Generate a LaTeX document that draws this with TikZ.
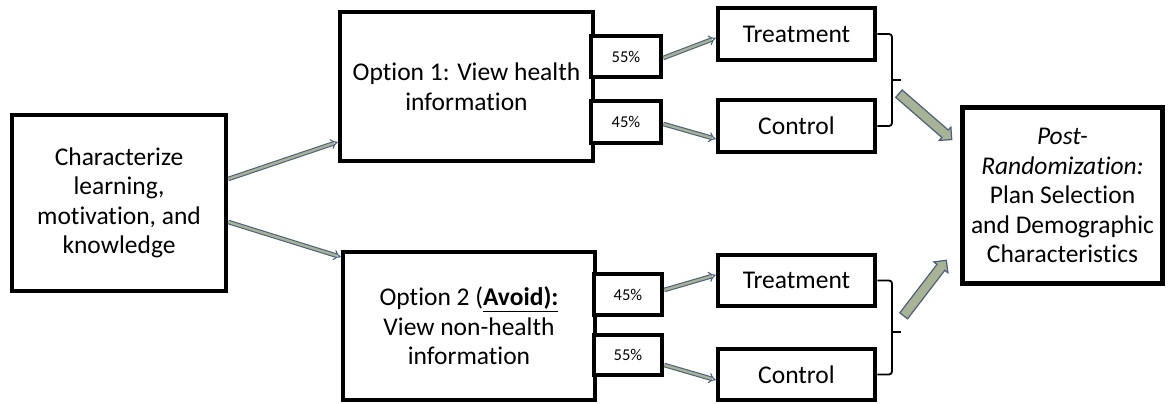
\documentclass[tikz,border=0pt]{standalone}
\usepackage{fontspec}
\setmainfont{Carlito}[RawFeature={-liga;-clig;-calt;-dlig}]
\usepackage{tikz}
\usetikzlibrary{arrows.meta,calc,shapes.arrows}
\definecolor{aredge}{HTML}{4C5F7E}
\definecolor{arfill}{HTML}{A8B294}
\tikzset{
  bx/.style={rectangle,draw=black,fill=white,line width=4.5pt,inner sep=0pt,align=center,
    font=\fontsize{25.5}{29.5}\selectfont},
  pc/.style={rectangle,draw=black,fill=white,line width=4.5pt,inner sep=0pt,
    font=\fontsize{16.5}{19}\selectfont},
  thn/.style={draw=aredge,double=arfill,line width=1.1pt,double distance=2.4pt,-{Implies}},
  brc/.style={draw=black,line width=1.8pt,rounded corners=3pt},
  fat/.style={single arrow,draw=aredge,fill=arfill,line width=1.2pt,inner sep=4.3pt,
    single arrow head extend=4pt,minimum height=70pt},
}
\begin{document}
\begin{tikzpicture}[x=1pt,y=-1pt]
\useasboundingbox (0,0) rectangle (1171,404);
% left: what is measured first
\node[bx,minimum width=214pt,minimum height=176pt] (chr) at (119,203)
  {Characterize\\ learning,\\ motivation, and\\ knowledge};
% the two options
\node[bx,minimum width=253pt,minimum height=149pt] (opa) at (466.5,86.5)
  {Option 1: View health\\ information};
\node[bx,minimum width=252pt,minimum height=148pt] (opb) at (469,326)
  {Option 2 (\underline{\textbf{Avoid):}}\\ View non-health\\ information};
\node[pc,minimum width=70pt,minimum height=41pt] (pa1) at (626,56.5) {55\%};
\node[pc,minimum width=70pt,minimum height=42pt] (pa2) at (626,122) {45\%};
\node[pc,minimum width=68pt,minimum height=41pt] (pb1) at (628,294.5) {45\%};
\node[pc,minimum width=68pt,minimum height=40pt] (pb2) at (628,355) {55\%};
% arms
\node[bx,minimum width=157pt,minimum height=52pt] (tra) at (796.5,34) {Treatment};
\node[bx,minimum width=157pt,minimum height=52pt] (cta) at (796.5,126) {Control};
\node[bx,minimum width=157pt,minimum height=51pt] (trb) at (796.5,280.5) {Treatment};
\node[bx,minimum width=157pt,minimum height=51pt] (ctb) at (796.5,374.5) {Control};
\node[bx,minimum width=200pt,minimum height=176pt,line width=5pt] (pst) at (1062.5,195.5)
  {\textit{Post-}\\ \textit{Randomization:}\\ Plan Selection\\ and Demographic\\ Characteristics};
% connectors
\draw[thn] ([yshift=24pt]chr.east) -- ([yshift=-55.5pt]opa.west);
\draw[thn] ([yshift=-19pt]chr.east) -- ([yshift=69pt]opb.west);
\draw[thn] ([yshift=-1.5pt]pa1.east) -- ([yshift=-4pt]tra.west);
\draw[thn] ([yshift=-2pt]pa2.east) -- ([yshift=-13pt]cta.west);
\draw[thn] ([yshift=4.5pt]pb1.east) -- ([yshift=5.5pt]trb.west);
\draw[thn] ([yshift=-10pt]pb2.east) -- ([yshift=-5.5pt]ctb.west);
% braces
\draw[brc] (tra.east) -- (892,34) -- (892,126) -- (cta.east);
\draw[line width=1.8pt] (892,80) -- (901,80);
\draw[brc] (trb.east) -- (892,280.5) -- (892,374.5) -- (ctb.east);
\draw[line width=1.8pt] (892,332) -- (901,332);
% block arrows to the last box
\node[fat,rotate=-41] (fa) at (923.5,115) {};
\node[fat,rotate=52.5] (fb) at (923.5,290) {};
\end{tikzpicture}
\end{document}
